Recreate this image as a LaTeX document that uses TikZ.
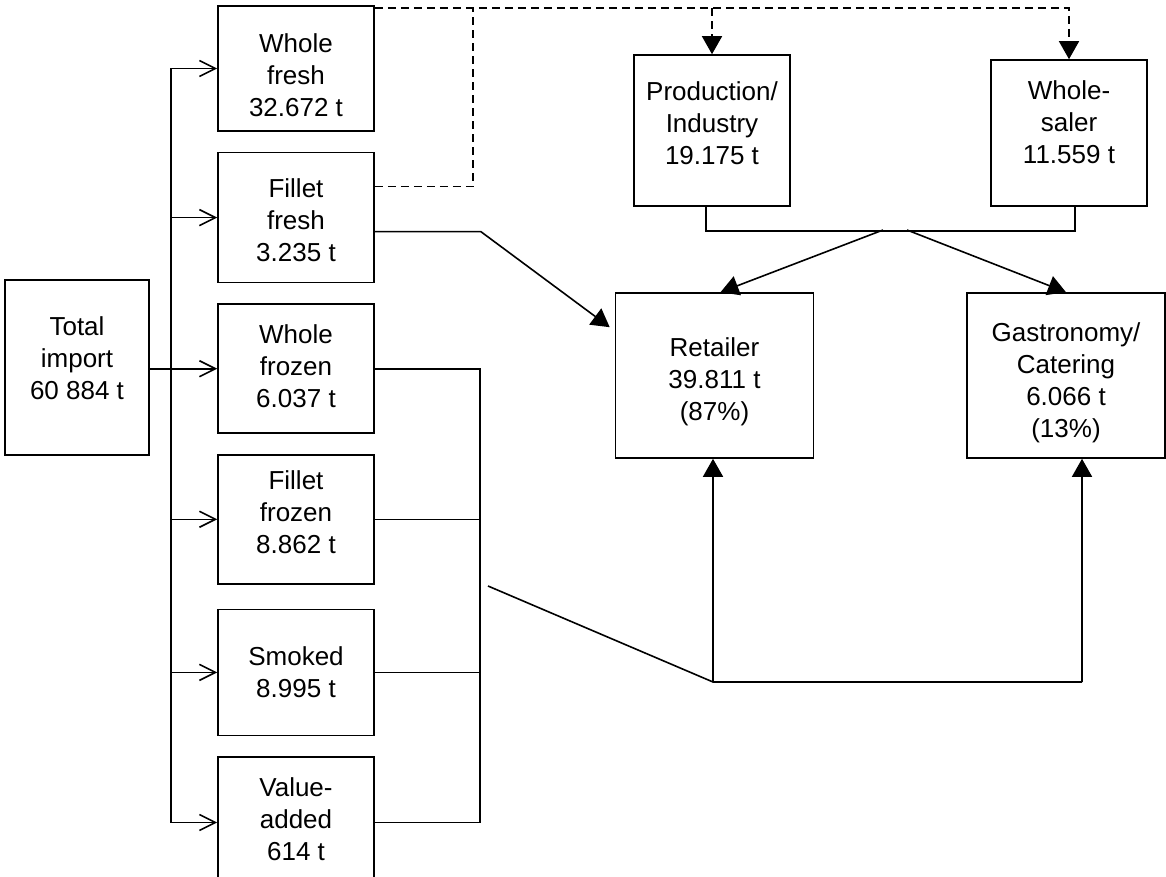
\documentclass[tikz,border=0pt]{standalone}
\usepackage{fontspec}
\setmainfont{Liberation Sans}
\usetikzlibrary{arrows.meta,positioning}

\begin{document}
\begin{tikzpicture}[x=0.5pt, y=-0.5pt, line width=0.8pt,
    box/.style={rectangle, draw, align=center, inner sep=0pt, font=\fontsize{13}{16}\selectfont},
    field/.style={minimum width=78pt},
    market/.style={minimum width=99pt, minimum height=82.5pt},
    feed/.style={-{Straight Barb[length=8pt, width=8pt]}},
    flow/.style={-{Triangle[length=9pt, width=10pt]}},
    dashflow/.style={dash pattern=on 4pt off 2.5pt}]
\useasboundingbox (0,0) rectangle (1166,877);

% product column
\node[box, field, minimum height=62.5pt, text height=48pt, text depth=0pt] (wfresh) at (296,68.5) {Whole\\fresh\\32.672 t};
\node[box, field, minimum height=65pt, text height=43.5pt, text depth=0pt, below=10pt of wfresh] (ffresh) {Fillet\\fresh\\3.235 t};
\node[box, field, minimum height=64.5pt, text depth=2.5pt, below=10pt of ffresh] (wfrozen) {Whole\\frozen\\6.037 t};
\node[box, field, minimum height=64.5pt, text depth=7.5pt, below=10pt of wfrozen] (ffrozen) {Fillet\\frozen\\8.862 t};
\node[box, field, minimum height=63pt, below=12pt of ffrozen] (smoked) {Smoked\\8.995 t};
\node[box, field, minimum height=65.5pt, text depth=3.5pt, below=10pt of smoked] (vadded) {Value-\\added\\614 t};

\node[box, minimum width=72pt, minimum height=87.5pt, text depth=9.5pt] (total) at (77,367.5) {Total\\import\\60 884 t};

% channels
\node[box, field, minimum height=75.5pt, text depth=7.5pt] (prod) at (712,130.5) {Production/\\Industry\\19.175 t};
\node[box, field, minimum height=73pt, text depth=11pt] (whsl) at (1069,133) {Whole-\\saler\\11.559 t};
\node[box, market, text height=47.5pt, text depth=2.8pt] (retail) at (714.5,375.5) {Retailer\\39.811 t\\(87\%)};
\node[box, market, text height=64.5pt, text depth=2.8pt] (gastro) at (1066,375.5) {Gastronomy/\\Catering\\6.066 t\\(13\%)};

\coordinate (trunk) at (171,0);
\coordinate (sink) at (480,0);
\coordinate (dknee) at (473,9);
\coordinate (jl) at (883,230);
\coordinate (jr) at (907,230);
\coordinate (tail) at (488,586);
\coordinate (hub) at (713,682);
\coordinate (gfoot) at (1082,682);

% import split
\draw (wfresh.west -| trunk) -- (vadded.west -| trunk);
\foreach \n in {wfresh,ffresh,ffrozen,smoked,vadded}
  \draw[feed] (\n.west -| trunk) -- (\n.west);
\draw[feed] (total.east |- wfrozen.west) -- (wfrozen.west);

% fresh goods
\draw[dashflow, flow] ([yshift=-1.5pt]wfresh.north east) coordinate (dtop) -| (whsl.north);
\draw[dashflow, flow] (dtop -| prod.north) -- (prod.north);
\draw[dashflow] ([yshift=15.5pt]ffresh.east) -| (dknee);
\draw[flow] ([yshift=-7pt]ffresh.east) -- ++(106,0) -- ([xshift=-2.5pt, yshift=-17.5pt]retail.north west);

\draw ([xshift=-3pt]prod.south) -- ++(0,24) -| ([xshift=3pt]whsl.south);
\draw[flow] (jl) -- ([xshift=3pt]retail.north);
\draw[flow] (jr) -- (gastro.north);

% frozen, smoked, value-added
\draw (wfrozen.east) -| (vadded.east -| sink) -- (vadded.east);
\foreach \n in {ffrozen,smoked}
  \draw (\n.east) -- (\n.east -| sink);
\draw (tail) -- (hub) -- (gfoot);
\draw[flow] (hub) -- (hub |- retail.south);
\draw[flow] (gfoot) -- (gfoot |- gastro.south);
\end{tikzpicture}
\end{document}
